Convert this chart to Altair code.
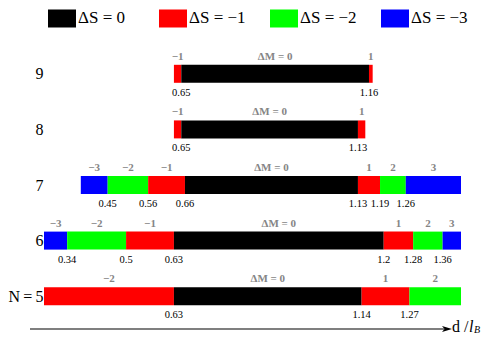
import altair as alt
import pandas as pd

SERIF = "'Liberation Serif', 'Times New Roman', 'DejaVu Serif', serif"

# ---- data ----
rows = [9, 8, 7, 6, 5]
boundaries = {
    9: [0.63, 0.65, 1.16, 1.17],
    8: [0.63, 0.65, 1.13, 1.15],
    7: [0.377, 0.45, 0.56, 0.66, 1.13, 1.19, 1.26, 1.41],
    6: [0.277, 0.34, 0.50, 0.63, 1.20, 1.28, 1.36, 1.41],
    5: [0.277, 0.63, 1.14, 1.27, 1.41],
}
delta_M = {
    9: [-1, 0, 1],
    8: [-1, 0, 1],
    7: [-3, -2, -1, 0, 1, 2, 3],
    6: [-3, -2, -1, 0, 1, 2, 3],
    5: [-2, 0, 1, 2],
}
delta_S = {
    9: [-1, 0, -1],
    8: [-1, 0, -1],
    7: [-3, -2, -1, 0, -1, -2, -3],
    6: [-3, -2, -1, 0, -1, -2, -3],
    5: [-1, 0, -1, -2],
}
tick_values = {
    9: [0.65, 1.16],
    8: [0.65, 1.13],
    7: [0.45, 0.56, 0.66, 1.13, 1.19, 1.26],
    6: [0.34, 0.5, 0.63, 1.2, 1.28, 1.36],
    5: [0.63, 1.14, 1.27],
}
legend_labels = ["ΔS = 0", "ΔS = −1", "ΔS = −2", "ΔS = −3"]
legend_colors = ["#000000", "#ff0000", "#00ff00", "#0000ff"]


def fmt_signed(v):
    return str(v) if v >= 0 else "−" + str(-v)


seg_records = []
for n in rows:
    b = boundaries[n]
    for i in range(len(b) - 1):
        m = delta_M[n][i]
        s = delta_S[n][i]
        seg_records.append({
            "N": n,
            "start": b[i],
            "end": b[i + 1],
            "mid": (b[i] + b[i + 1]) / 2,
            "dM": "ΔM = 0" if m == 0 else fmt_signed(m),
            "dS": legend_labels[-s],
        })
seg = pd.DataFrame(seg_records)

tick_records = []
for n in rows:
    for v in tick_values[n]:
        tick_records.append({"N": n, "value": v, "label": f"{v:g}"})
ticks = pd.DataFrame(tick_records)

xscale = alt.Scale(domain=[0.277, 1.41], nice=False, zero=False, padding=0)
yscale = alt.Scale(domain=[4.5, 9.5], nice=False, zero=False, padding=0)

yaxis = alt.Axis(
    values=[5, 6, 7, 8, 9],
    labelExpr="datum.value == 5 ? 'N\u2009=\u20095' : datum.value",
    domain=False, ticks=False, grid=False, title=None,
    labelFont=SERIF, labelFontSize=16, labelColor="black", labelPadding=1,
)

bars = alt.Chart(seg).mark_bar(size=18).encode(
    x=alt.X("start:Q", scale=xscale, axis=None),
    x2="end:Q",
    y=alt.Y("N:Q", scale=yscale, axis=yaxis),
    color=alt.Color(
        "dS:N",
        scale=alt.Scale(domain=legend_labels, range=legend_colors),
        legend=alt.Legend(
            title=None, orient="none", legendX=4, legendY=-42,
            direction="horizontal", columns=4, gridAlign="all",
            symbolType="M-1,-0.643L1,-0.643L1,0.643L-1,0.643Z",
            symbolSize=784, symbolStrokeWidth=0, symbolOpacity=1,
            labelFont=SERIF, labelFontSize=17, labelColor="black",
            labelOffset=2, columnPadding=24, padding=0,
        ),
    ),
)

dm_text = alt.Chart(seg).mark_text(
    dy=-17, fontSize=11, fontWeight="bold", color="#858585", font=SERIF
).encode(
    x=alt.X("mid:Q", scale=xscale, axis=None),
    y=alt.Y("N:Q", scale=yscale, axis=yaxis),
    text="dM:N",
)

tick_text = alt.Chart(ticks).mark_text(
    dy=19, fontSize=10.5, color="black", font=SERIF
).encode(
    x=alt.X("value:Q", scale=xscale, axis=None),
    y=alt.Y("N:Q", scale=yscale, axis=yaxis),
    text="label:N",
)

one = pd.DataFrame({"k": [0]})
arrow_line = alt.Chart(one).mark_rule(color="black", strokeWidth=1.2).encode(
    x=alt.value(-14), x2=alt.value(400), y=alt.value(283)
)
arrow_head = alt.Chart(one).mark_point(
    shape="M1,0L-1,-0.6L-0.5,0L-1,0.6Z", filled=True, color="black", opacity=1, size=100
).encode(x=alt.value(403), y=alt.value(283))
t_d = alt.Chart(one).mark_text(
    text="d /", align="left", baseline="middle", fontSize=16, font=SERIF, color="black"
).encode(x=alt.value(408), y=alt.value(281))
t_l = alt.Chart(one).mark_text(
    text="l", align="left", baseline="middle", fontSize=16, font=SERIF,
    fontStyle="italic", color="black"
).encode(x=alt.value(425), y=alt.value(281))
t_b = alt.Chart(one).mark_text(
    text="B", align="left", baseline="middle", fontSize=10, font=SERIF,
    fontStyle="italic", color="black"
).encode(x=alt.value(430), y=alt.value(284))

chart = alt.layer(bars, dm_text, tick_text, arrow_line, arrow_head, t_d, t_l, t_b).properties(
    width=417, height=278,
    padding={"left": 36, "top": 38, "right": 22, "bottom": 12},
    autosize="none",
).configure_view(stroke=None)

chart.save("out.html", embed_options={"renderer": "svg", "actions": False})
